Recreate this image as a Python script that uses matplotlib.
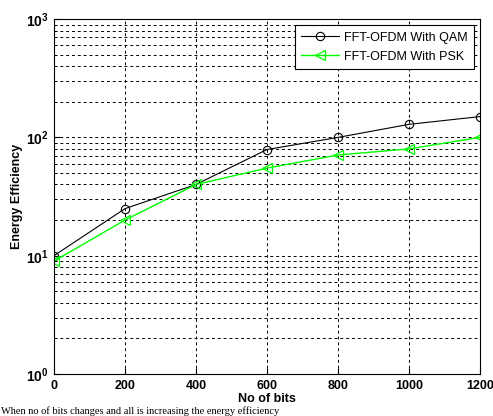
import matplotlib
matplotlib.use("Agg")
import matplotlib.pyplot as plt
from matplotlib.ticker import LogLocator, NullFormatter

# --- data ---
bits = [0, 200, 400, 600, 800, 1000, 1200]
qam_eff = [10, 25, 40, 79, 100, 129, 150]
psk_eff = [9, 20, 40, 55, 71, 80, 100]

plt.rcParams['font.family'] = ['Liberation Sans', 'DejaVu Sans']

fig = plt.figure(figsize=(4.93, 4.16), dpi=100)
ax = fig.add_axes([0.1095, 0.101, 0.864, 0.853])

ax.plot(bits, qam_eff, color='black', lw=0.8, marker='o', ms=6,
        mfc='none', mec='black', mew=0.8, label='FFT-OFDM With QAM')
ax.plot(bits, psk_eff, color='#00ff00', lw=1.0, marker='<', ms=7,
        mfc='none', mec='#00ff00', mew=0.9, label='FFT-OFDM With PSK')

ax.set_yscale('log')
ax.set_xlim(0, 1200)
ax.set_ylim(1, 1000)
ax.set_xticks(bits)
ax.set_xticklabels([str(b) for b in bits], fontweight='bold', fontsize=9)
ax.yaxis.set_major_locator(LogLocator(base=10))
ax.yaxis.set_minor_locator(LogLocator(base=10, subs=range(2, 10)))
ax.yaxis.set_minor_formatter(NullFormatter())
for lbl in ax.get_yticklabels():
    lbl.set_fontweight('bold')
    lbl.set_fontsize(10)

ax.tick_params(which='both', direction='in', top=False, right=False)
ax.tick_params(which='major', length=4, pad=4)
ax.tick_params(which='minor', length=2)

ax.grid(True, which='major', axis='both', color='black', ls=(0, (3, 3)), lw=0.7)
ax.grid(True, which='minor', axis='y', color='black', ls=(0, (3, 3)), lw=0.7)

ax.set_xlabel('No of bits', fontweight='bold', fontsize=9, labelpad=1)
ax.set_ylabel('Energy Efficiency', fontweight='bold', fontsize=9, labelpad=2)

leg = ax.legend(loc='upper right', fontsize=9, frameon=True, fancybox=False,
                edgecolor='black', framealpha=1, borderpad=0.5,
                labelspacing=0.55, handlelength=3.0, handletextpad=0.4,
                borderaxespad=0.5)
leg.get_frame().set_linewidth(0.8)

fig.text(0.002, 0.0, 'When no of bits changes and all is increasing the energy efficiency',
         fontsize=7.5, family='Liberation Serif', va='bottom')

fig.savefig('out.png', dpi=100)
